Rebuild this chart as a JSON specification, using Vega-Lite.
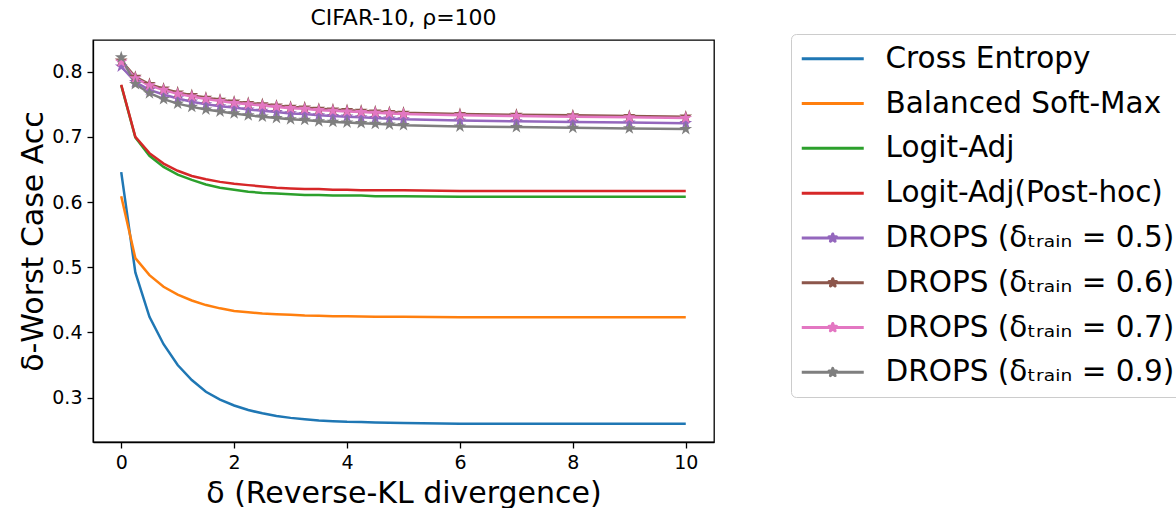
{
  "$schema": "https://vega.github.io/schema/vega-lite/v6.json",
  "width": 621,
  "height": 402,
  "autosize": {"type": "none"},
  "padding": {"left": 93, "top": 40, "right": 462, "bottom": 66},
  "background": "white",
  "config": {
    "font": "DejaVu Sans",
    "view": {"stroke": "#000000", "strokeWidth": 1.3},
    "axis": {"grid": false, "domainColor": "#000000", "domainWidth": 1.3, "tickColor": "#000000", "tickWidth": 1.3, "tickSize": 6, "labelPadding": 5, "labelFontSize": 19, "labelColor": "#000000", "titleFontSize": 30, "titleFontWeight": "normal", "titleColor": "#000000", "labelFont": "DejaVu Sans", "titleFont": "DejaVu Sans"}
  },
  "title": {"text": "CIFAR-10, ρ=100", "fontSize": 22, "fontWeight": "normal", "font": "DejaVu Sans", "color": "#000000", "offset": 4, "anchor": "middle"},
  "datasets": {
    "pts": [
      {"series": "Cross Entropy", "x": 0, "y": 0.646}, {"series": "Cross Entropy", "x": 0.25, "y": 0.492}, {"series": "Cross Entropy", "x": 0.5, "y": 0.424}, {"series": "Cross Entropy", "x": 0.75, "y": 0.382}, {"series": "Cross Entropy", "x": 1, "y": 0.350}, {"series": "Cross Entropy", "x": 1.25, "y": 0.327}, {"series": "Cross Entropy", "x": 1.5, "y": 0.309}, {"series": "Cross Entropy", "x": 1.75, "y": 0.297}, {"series": "Cross Entropy", "x": 2, "y": 0.288}, {"series": "Cross Entropy", "x": 2.25, "y": 0.281}, {"series": "Cross Entropy", "x": 2.5, "y": 0.276}, {"series": "Cross Entropy", "x": 2.75, "y": 0.272}, {"series": "Cross Entropy", "x": 3, "y": 0.269}, {"series": "Cross Entropy", "x": 3.25, "y": 0.267}, {"series": "Cross Entropy", "x": 3.5, "y": 0.265}, {"series": "Cross Entropy", "x": 3.75, "y": 0.264}, {"series": "Cross Entropy", "x": 4, "y": 0.263}, {"series": "Cross Entropy", "x": 4.25, "y": 0.2625}, {"series": "Cross Entropy", "x": 4.5, "y": 0.262}, {"series": "Cross Entropy", "x": 4.75, "y": 0.2615}, {"series": "Cross Entropy", "x": 5, "y": 0.261}, {"series": "Cross Entropy", "x": 6, "y": 0.260}, {"series": "Cross Entropy", "x": 7, "y": 0.260}, {"series": "Cross Entropy", "x": 8, "y": 0.260}, {"series": "Cross Entropy", "x": 9, "y": 0.260}, {"series": "Cross Entropy", "x": 10, "y": 0.260},
      {"series": "Balanced Soft-Max", "x": 0, "y": 0.609}, {"series": "Balanced Soft-Max", "x": 0.25, "y": 0.514}, {"series": "Balanced Soft-Max", "x": 0.5, "y": 0.488}, {"series": "Balanced Soft-Max", "x": 0.75, "y": 0.470}, {"series": "Balanced Soft-Max", "x": 1, "y": 0.458}, {"series": "Balanced Soft-Max", "x": 1.25, "y": 0.449}, {"series": "Balanced Soft-Max", "x": 1.5, "y": 0.442}, {"series": "Balanced Soft-Max", "x": 1.75, "y": 0.437}, {"series": "Balanced Soft-Max", "x": 2, "y": 0.433}, {"series": "Balanced Soft-Max", "x": 2.25, "y": 0.431}, {"series": "Balanced Soft-Max", "x": 2.5, "y": 0.429}, {"series": "Balanced Soft-Max", "x": 2.75, "y": 0.428}, {"series": "Balanced Soft-Max", "x": 3, "y": 0.427}, {"series": "Balanced Soft-Max", "x": 3.25, "y": 0.426}, {"series": "Balanced Soft-Max", "x": 3.5, "y": 0.4255}, {"series": "Balanced Soft-Max", "x": 3.75, "y": 0.425}, {"series": "Balanced Soft-Max", "x": 4, "y": 0.4248}, {"series": "Balanced Soft-Max", "x": 4.25, "y": 0.4245}, {"series": "Balanced Soft-Max", "x": 4.5, "y": 0.4243}, {"series": "Balanced Soft-Max", "x": 4.75, "y": 0.424}, {"series": "Balanced Soft-Max", "x": 5, "y": 0.424}, {"series": "Balanced Soft-Max", "x": 6, "y": 0.4235}, {"series": "Balanced Soft-Max", "x": 7, "y": 0.4233}, {"series": "Balanced Soft-Max", "x": 8, "y": 0.4233}, {"series": "Balanced Soft-Max", "x": 9, "y": 0.4233}, {"series": "Balanced Soft-Max", "x": 10, "y": 0.4233},
      {"series": "Logit-Adj", "x": 0, "y": 0.779}, {"series": "Logit-Adj", "x": 0.25, "y": 0.699}, {"series": "Logit-Adj", "x": 0.5, "y": 0.671}, {"series": "Logit-Adj", "x": 0.75, "y": 0.654}, {"series": "Logit-Adj", "x": 1, "y": 0.642}, {"series": "Logit-Adj", "x": 1.25, "y": 0.634}, {"series": "Logit-Adj", "x": 1.5, "y": 0.627}, {"series": "Logit-Adj", "x": 1.75, "y": 0.622}, {"series": "Logit-Adj", "x": 2, "y": 0.619}, {"series": "Logit-Adj", "x": 2.25, "y": 0.616}, {"series": "Logit-Adj", "x": 2.5, "y": 0.614}, {"series": "Logit-Adj", "x": 2.75, "y": 0.613}, {"series": "Logit-Adj", "x": 3, "y": 0.612}, {"series": "Logit-Adj", "x": 3.25, "y": 0.611}, {"series": "Logit-Adj", "x": 3.5, "y": 0.611}, {"series": "Logit-Adj", "x": 3.75, "y": 0.610}, {"series": "Logit-Adj", "x": 4, "y": 0.610}, {"series": "Logit-Adj", "x": 4.25, "y": 0.610}, {"series": "Logit-Adj", "x": 4.5, "y": 0.609}, {"series": "Logit-Adj", "x": 4.75, "y": 0.609}, {"series": "Logit-Adj", "x": 5, "y": 0.609}, {"series": "Logit-Adj", "x": 6, "y": 0.608}, {"series": "Logit-Adj", "x": 7, "y": 0.608}, {"series": "Logit-Adj", "x": 8, "y": 0.608}, {"series": "Logit-Adj", "x": 9, "y": 0.608}, {"series": "Logit-Adj", "x": 10, "y": 0.608},
      {"series": "Logit-Adj(Post-hoc)", "x": 0, "y": 0.780}, {"series": "Logit-Adj(Post-hoc)", "x": 0.25, "y": 0.700}, {"series": "Logit-Adj(Post-hoc)", "x": 0.5, "y": 0.675}, {"series": "Logit-Adj(Post-hoc)", "x": 0.75, "y": 0.659}, {"series": "Logit-Adj(Post-hoc)", "x": 1, "y": 0.648}, {"series": "Logit-Adj(Post-hoc)", "x": 1.25, "y": 0.640}, {"series": "Logit-Adj(Post-hoc)", "x": 1.5, "y": 0.635}, {"series": "Logit-Adj(Post-hoc)", "x": 1.75, "y": 0.631}, {"series": "Logit-Adj(Post-hoc)", "x": 2, "y": 0.628}, {"series": "Logit-Adj(Post-hoc)", "x": 2.25, "y": 0.626}, {"series": "Logit-Adj(Post-hoc)", "x": 2.5, "y": 0.624}, {"series": "Logit-Adj(Post-hoc)", "x": 2.75, "y": 0.622}, {"series": "Logit-Adj(Post-hoc)", "x": 3, "y": 0.621}, {"series": "Logit-Adj(Post-hoc)", "x": 3.25, "y": 0.620}, {"series": "Logit-Adj(Post-hoc)", "x": 3.5, "y": 0.620}, {"series": "Logit-Adj(Post-hoc)", "x": 3.75, "y": 0.619}, {"series": "Logit-Adj(Post-hoc)", "x": 4, "y": 0.619}, {"series": "Logit-Adj(Post-hoc)", "x": 4.25, "y": 0.618}, {"series": "Logit-Adj(Post-hoc)", "x": 4.5, "y": 0.618}, {"series": "Logit-Adj(Post-hoc)", "x": 4.75, "y": 0.618}, {"series": "Logit-Adj(Post-hoc)", "x": 5, "y": 0.618}, {"series": "Logit-Adj(Post-hoc)", "x": 6, "y": 0.617}, {"series": "Logit-Adj(Post-hoc)", "x": 7, "y": 0.617}, {"series": "Logit-Adj(Post-hoc)", "x": 8, "y": 0.617}, {"series": "Logit-Adj(Post-hoc)", "x": 9, "y": 0.617}, {"series": "Logit-Adj(Post-hoc)", "x": 10, "y": 0.617},
      {"series": "DROPS (δₜᵣₐᵢₙ = 0.5)", "x": 0, "y": 0.808}, {"series": "DROPS (δₜᵣₐᵢₙ = 0.5)", "x": 0.25, "y": 0.784}, {"series": "DROPS (δₜᵣₐᵢₙ = 0.5)", "x": 0.5, "y": 0.772}, {"series": "DROPS (δₜᵣₐᵢₙ = 0.5)", "x": 0.75, "y": 0.765}, {"series": "DROPS (δₜᵣₐᵢₙ = 0.5)", "x": 1, "y": 0.759}, {"series": "DROPS (δₜᵣₐᵢₙ = 0.5)", "x": 1.25, "y": 0.754}, {"series": "DROPS (δₜᵣₐᵢₙ = 0.5)", "x": 1.5, "y": 0.750}, {"series": "DROPS (δₜᵣₐᵢₙ = 0.5)", "x": 1.75, "y": 0.747}, {"series": "DROPS (δₜᵣₐᵢₙ = 0.5)", "x": 2, "y": 0.745}, {"series": "DROPS (δₜᵣₐᵢₙ = 0.5)", "x": 2.25, "y": 0.742}, {"series": "DROPS (δₜᵣₐᵢₙ = 0.5)", "x": 2.5, "y": 0.740}, {"series": "DROPS (δₜᵣₐᵢₙ = 0.5)", "x": 2.75, "y": 0.738}, {"series": "DROPS (δₜᵣₐᵢₙ = 0.5)", "x": 3, "y": 0.736}, {"series": "DROPS (δₜᵣₐᵢₙ = 0.5)", "x": 3.25, "y": 0.735}, {"series": "DROPS (δₜᵣₐᵢₙ = 0.5)", "x": 3.5, "y": 0.733}, {"series": "DROPS (δₜᵣₐᵢₙ = 0.5)", "x": 3.75, "y": 0.732}, {"series": "DROPS (δₜᵣₐᵢₙ = 0.5)", "x": 4, "y": 0.731}, {"series": "DROPS (δₜᵣₐᵢₙ = 0.5)", "x": 4.25, "y": 0.730}, {"series": "DROPS (δₜᵣₐᵢₙ = 0.5)", "x": 4.5, "y": 0.729}, {"series": "DROPS (δₜᵣₐᵢₙ = 0.5)", "x": 4.75, "y": 0.728}, {"series": "DROPS (δₜᵣₐᵢₙ = 0.5)", "x": 5, "y": 0.727}, {"series": "DROPS (δₜᵣₐᵢₙ = 0.5)", "x": 6, "y": 0.725}, {"series": "DROPS (δₜᵣₐᵢₙ = 0.5)", "x": 7, "y": 0.724}, {"series": "DROPS (δₜᵣₐᵢₙ = 0.5)", "x": 8, "y": 0.723}, {"series": "DROPS (δₜᵣₐᵢₙ = 0.5)", "x": 9, "y": 0.722}, {"series": "DROPS (δₜᵣₐᵢₙ = 0.5)", "x": 10, "y": 0.721},
      {"series": "DROPS (δₜᵣₐᵢₙ = 0.6)", "x": 0, "y": 0.817}, {"series": "DROPS (δₜᵣₐᵢₙ = 0.6)", "x": 0.25, "y": 0.792}, {"series": "DROPS (δₜᵣₐᵢₙ = 0.6)", "x": 0.5, "y": 0.781}, {"series": "DROPS (δₜᵣₐᵢₙ = 0.6)", "x": 0.75, "y": 0.774}, {"series": "DROPS (δₜᵣₐᵢₙ = 0.6)", "x": 1, "y": 0.768}, {"series": "DROPS (δₜᵣₐᵢₙ = 0.6)", "x": 1.25, "y": 0.764}, {"series": "DROPS (δₜᵣₐᵢₙ = 0.6)", "x": 1.5, "y": 0.760}, {"series": "DROPS (δₜᵣₐᵢₙ = 0.6)", "x": 1.75, "y": 0.757}, {"series": "DROPS (δₜᵣₐᵢₙ = 0.6)", "x": 2, "y": 0.754}, {"series": "DROPS (δₜᵣₐᵢₙ = 0.6)", "x": 2.25, "y": 0.752}, {"series": "DROPS (δₜᵣₐᵢₙ = 0.6)", "x": 2.5, "y": 0.750}, {"series": "DROPS (δₜᵣₐᵢₙ = 0.6)", "x": 2.75, "y": 0.748}, {"series": "DROPS (δₜᵣₐᵢₙ = 0.6)", "x": 3, "y": 0.746}, {"series": "DROPS (δₜᵣₐᵢₙ = 0.6)", "x": 3.25, "y": 0.745}, {"series": "DROPS (δₜᵣₐᵢₙ = 0.6)", "x": 3.5, "y": 0.743}, {"series": "DROPS (δₜᵣₐᵢₙ = 0.6)", "x": 3.75, "y": 0.742}, {"series": "DROPS (δₜᵣₐᵢₙ = 0.6)", "x": 4, "y": 0.741}, {"series": "DROPS (δₜᵣₐᵢₙ = 0.6)", "x": 4.25, "y": 0.740}, {"series": "DROPS (δₜᵣₐᵢₙ = 0.6)", "x": 4.5, "y": 0.739}, {"series": "DROPS (δₜᵣₐᵢₙ = 0.6)", "x": 4.75, "y": 0.738}, {"series": "DROPS (δₜᵣₐᵢₙ = 0.6)", "x": 5, "y": 0.737}, {"series": "DROPS (δₜᵣₐᵢₙ = 0.6)", "x": 6, "y": 0.735}, {"series": "DROPS (δₜᵣₐᵢₙ = 0.6)", "x": 7, "y": 0.734}, {"series": "DROPS (δₜᵣₐᵢₙ = 0.6)", "x": 8, "y": 0.733}, {"series": "DROPS (δₜᵣₐᵢₙ = 0.6)", "x": 9, "y": 0.732}, {"series": "DROPS (δₜᵣₐᵢₙ = 0.6)", "x": 10, "y": 0.731},
      {"series": "DROPS (δₜᵣₐᵢₙ = 0.7)", "x": 0, "y": 0.815}, {"series": "DROPS (δₜᵣₐᵢₙ = 0.7)", "x": 0.25, "y": 0.790}, {"series": "DROPS (δₜᵣₐᵢₙ = 0.7)", "x": 0.5, "y": 0.779}, {"series": "DROPS (δₜᵣₐᵢₙ = 0.7)", "x": 0.75, "y": 0.772}, {"series": "DROPS (δₜᵣₐᵢₙ = 0.7)", "x": 1, "y": 0.766}, {"series": "DROPS (δₜᵣₐᵢₙ = 0.7)", "x": 1.25, "y": 0.762}, {"series": "DROPS (δₜᵣₐᵢₙ = 0.7)", "x": 1.5, "y": 0.758}, {"series": "DROPS (δₜᵣₐᵢₙ = 0.7)", "x": 1.75, "y": 0.755}, {"series": "DROPS (δₜᵣₐᵢₙ = 0.7)", "x": 2, "y": 0.752}, {"series": "DROPS (δₜᵣₐᵢₙ = 0.7)", "x": 2.25, "y": 0.750}, {"series": "DROPS (δₜᵣₐᵢₙ = 0.7)", "x": 2.5, "y": 0.748}, {"series": "DROPS (δₜᵣₐᵢₙ = 0.7)", "x": 2.75, "y": 0.746}, {"series": "DROPS (δₜᵣₐᵢₙ = 0.7)", "x": 3, "y": 0.744}, {"series": "DROPS (δₜᵣₐᵢₙ = 0.7)", "x": 3.25, "y": 0.743}, {"series": "DROPS (δₜᵣₐᵢₙ = 0.7)", "x": 3.5, "y": 0.741}, {"series": "DROPS (δₜᵣₐᵢₙ = 0.7)", "x": 3.75, "y": 0.740}, {"series": "DROPS (δₜᵣₐᵢₙ = 0.7)", "x": 4, "y": 0.739}, {"series": "DROPS (δₜᵣₐᵢₙ = 0.7)", "x": 4.25, "y": 0.738}, {"series": "DROPS (δₜᵣₐᵢₙ = 0.7)", "x": 4.5, "y": 0.737}, {"series": "DROPS (δₜᵣₐᵢₙ = 0.7)", "x": 4.75, "y": 0.736}, {"series": "DROPS (δₜᵣₐᵢₙ = 0.7)", "x": 5, "y": 0.735}, {"series": "DROPS (δₜᵣₐᵢₙ = 0.7)", "x": 6, "y": 0.733}, {"series": "DROPS (δₜᵣₐᵢₙ = 0.7)", "x": 7, "y": 0.732}, {"series": "DROPS (δₜᵣₐᵢₙ = 0.7)", "x": 8, "y": 0.731}, {"series": "DROPS (δₜᵣₐᵢₙ = 0.7)", "x": 9, "y": 0.730}, {"series": "DROPS (δₜᵣₐᵢₙ = 0.7)", "x": 10, "y": 0.729},
      {"series": "DROPS (δₜᵣₐᵢₙ = 0.9)", "x": 0, "y": 0.822}, {"series": "DROPS (δₜᵣₐᵢₙ = 0.9)", "x": 0.25, "y": 0.781}, {"series": "DROPS (δₜᵣₐᵢₙ = 0.9)", "x": 0.5, "y": 0.767}, {"series": "DROPS (δₜᵣₐᵢₙ = 0.9)", "x": 0.75, "y": 0.758}, {"series": "DROPS (δₜᵣₐᵢₙ = 0.9)", "x": 1, "y": 0.751}, {"series": "DROPS (δₜᵣₐᵢₙ = 0.9)", "x": 1.25, "y": 0.746}, {"series": "DROPS (δₜᵣₐᵢₙ = 0.9)", "x": 1.5, "y": 0.742}, {"series": "DROPS (δₜᵣₐᵢₙ = 0.9)", "x": 1.75, "y": 0.739}, {"series": "DROPS (δₜᵣₐᵢₙ = 0.9)", "x": 2, "y": 0.736}, {"series": "DROPS (δₜᵣₐᵢₙ = 0.9)", "x": 2.25, "y": 0.733}, {"series": "DROPS (δₜᵣₐᵢₙ = 0.9)", "x": 2.5, "y": 0.731}, {"series": "DROPS (δₜᵣₐᵢₙ = 0.9)", "x": 2.75, "y": 0.729}, {"series": "DROPS (δₜᵣₐᵢₙ = 0.9)", "x": 3, "y": 0.727}, {"series": "DROPS (δₜᵣₐᵢₙ = 0.9)", "x": 3.25, "y": 0.726}, {"series": "DROPS (δₜᵣₐᵢₙ = 0.9)", "x": 3.5, "y": 0.724}, {"series": "DROPS (δₜᵣₐᵢₙ = 0.9)", "x": 3.75, "y": 0.723}, {"series": "DROPS (δₜᵣₐᵢₙ = 0.9)", "x": 4, "y": 0.722}, {"series": "DROPS (δₜᵣₐᵢₙ = 0.9)", "x": 4.25, "y": 0.721}, {"series": "DROPS (δₜᵣₐᵢₙ = 0.9)", "x": 4.5, "y": 0.720}, {"series": "DROPS (δₜᵣₐᵢₙ = 0.9)", "x": 4.75, "y": 0.719}, {"series": "DROPS (δₜᵣₐᵢₙ = 0.9)", "x": 5, "y": 0.718}, {"series": "DROPS (δₜᵣₐᵢₙ = 0.9)", "x": 6, "y": 0.716}, {"series": "DROPS (δₜᵣₐᵢₙ = 0.9)", "x": 7, "y": 0.715}, {"series": "DROPS (δₜᵣₐᵢₙ = 0.9)", "x": 8, "y": 0.714}, {"series": "DROPS (δₜᵣₐᵢₙ = 0.9)", "x": 9, "y": 0.713}, {"series": "DROPS (δₜᵣₐᵢₙ = 0.9)", "x": 10, "y": 0.712}
    ]
  },
  "data": {"name": "pts"},
  "encoding": {
    "x": {"field": "x", "type": "quantitative", "scale": {"domain": [-0.5, 10.5], "nice": false, "zero": false}, "axis": {"values": [0, 2, 4, 6, 8, 10], "title": "δ (Reverse-KL divergence)", "titlePadding": 6, "labelFlush": false}},
    "y": {"field": "y", "type": "quantitative", "scale": {"domain": [0.232, 0.8486], "nice": false, "zero": false}, "axis": {"values": [0.3, 0.4, 0.5, 0.6, 0.7, 0.8], "format": ".1f", "title": "δ-Worst Case Acc", "titlePadding": 3, "labelFlush": false}},
    "color": {
      "field": "series", "type": "nominal",
      "scale": {
        "domain": ["Cross Entropy", "Balanced Soft-Max", "Logit-Adj", "Logit-Adj(Post-hoc)", "DROPS (δₜᵣₐᵢₙ = 0.5)", "DROPS (δₜᵣₐᵢₙ = 0.6)", "DROPS (δₜᵣₐᵢₙ = 0.7)", "DROPS (δₜᵣₐᵢₙ = 0.9)"],
        "range": ["#1f77b4", "#ff7f0e", "#2ca02c", "#d62728", "#9467bd", "#8c564b", "#e377c2", "#7f7f7f"]
      }
    }
  },
  "layer": [
    {
      "mark": {"type": "line", "strokeWidth": 2.5},
      "encoding": {
        "color": {
          "field": "series", "type": "nominal",
          "legend": {
            "title": null, "orient": "none", "legendX": 698, "legendY": -6,
            "labelFontSize": 29.5, "labelLimit": 600, "labelColor": "#000000", "labelFont": "DejaVu Sans",
            "symbolSize": 400, "symbolStrokeWidth": 3, "labelOffset": 55, "rowPadding": 13.8, "padding": 10,
            "strokeColor": "#cccccc", "fillColor": "#ffffff", "cornerRadius": 5,
            "symbolType": "M-1.4,0H4.8",
            "encode": {
              "symbols": {
                "update": {
                  "shape": {"signal": "indexof(datum.value, 'DROPS') === 0 ? 'M-1.4,0H4.8M1.7,-0.4L1.79,-0.124L2.08,-0.124L1.845,0.047L1.935,0.324L1.7,0.153L1.465,0.324L1.555,0.047L1.32,-0.124L1.61,-0.124Z' : 'M-1.4,0H4.8'"},
                  "fill": {"signal": "scale('color', datum.value)"},
                  "stroke": {"signal": "scale('color', datum.value)"},
                  "strokeWidth": {"value": 3},
                  "strokeJoin": {"value": "round"},
                  "opacity": {"value": 1}
                }
              }
            }
          }
        }
      }
    },
    {
      "transform": [{"filter": "indexof(datum.series, 'DROPS') === 0"}],
      "mark": {"type": "point", "shape": "M0,-1L0.2245,-0.309L0.951,-0.309L0.363,0.118L0.588,0.809L0,0.382L-0.588,0.809L-0.363,0.118L-0.951,-0.309L-0.2245,-0.309Z", "filled": true, "size": 180, "opacity": 1},
      "encoding": {
        "color": {"field": "series", "type": "nominal", "legend": null}
      }
    }
  ]
}
